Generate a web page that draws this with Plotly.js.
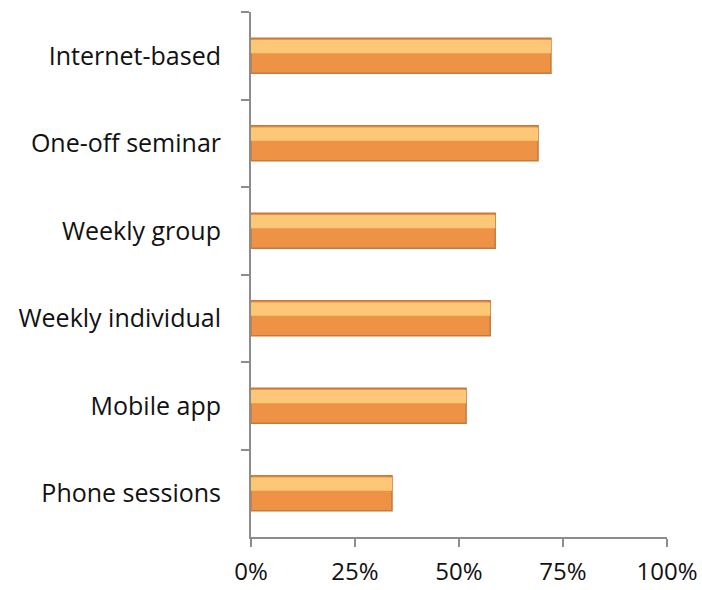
<!DOCTYPE html>
<html><head><meta charset="utf-8">
<script src="https://cdn.plot.ly/plotly-3.0.1.min.js"></script>
<style>body{margin:0;background:#fff}#chart{width:702px;height:590px}</style>
</head><body><div id="chart"></div>
<script>
const categories = ['Internet-based','One-off seminar','Weekly group','Weekly individual','Mobile app','Phone sessions'];
const values = [0.721, 0.690, 0.587, 0.575, 0.517, 0.339];
const tickVals = [0, 0.25, 0.5, 0.75, 1];

const base = {
  type:'bar', orientation:'h', y:categories, x:values, width:0.4,
  marker:{color:'#EE9246', line:{color:'#C47A3E', width:1.5}},
  hoverinfo:'skip', showlegend:false
};
const highlight = {
  type:'bar', orientation:'h', y:categories, x:values, width:0.15, offset:-0.18,
  marker:{color:'#FCC777', line:{width:0}},
  hoverinfo:'skip', showlegend:false
};
const layout = {
  width:702, height:590,
  margin:{l:251, r:35, t:12, b:53},
  barmode:'overlay',
  paper_bgcolor:'#fff', plot_bgcolor:'#fff',
  font:{family:'"Open Sans", "Noto Sans", sans-serif', size:25, color:'#111'},
  xaxis:{range:[0,1], tickvals:tickVals, tickformat:'.0%', showgrid:false, zeroline:false,
         showline:true, linecolor:'#8c8c8c', linewidth:2, ticks:'outside', ticklen:8, tickwidth:2, tickcolor:'#8c8c8c',
         ticklabelstandoff:4, tickfont:{size:24}},
  yaxis:{autorange:'reversed', showgrid:false, zeroline:false, showline:true, linecolor:'#8c8c8c', linewidth:2,
         ticks:'outside', ticklen:8, tickwidth:2, tickcolor:'#8c8c8c', tickson:'boundaries', ticklabelstandoff:23}
};
Plotly.newPlot('chart', [base, highlight], layout, {displayModeBar:false, staticPlot:true});
</script></body></html>
